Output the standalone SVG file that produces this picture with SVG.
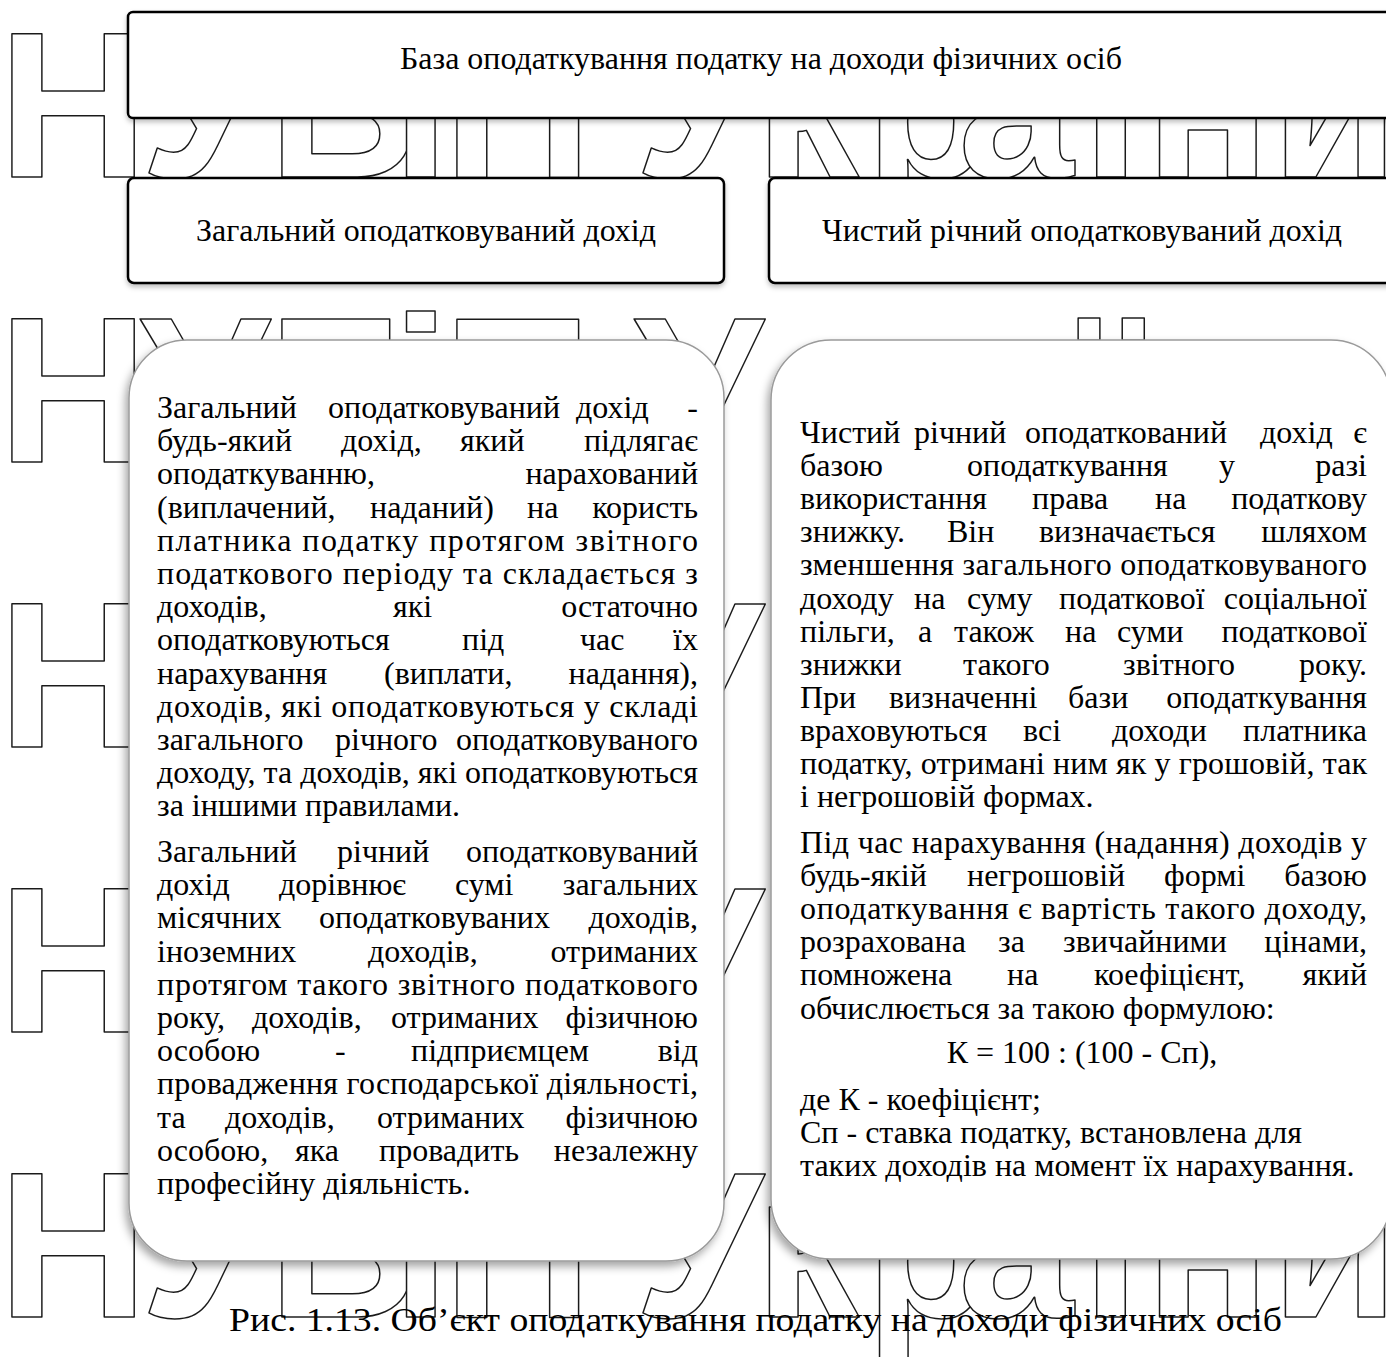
<svg xmlns="http://www.w3.org/2000/svg" width="1386" height="1357" viewBox="0 0 1386 1357">
<style>
.t{font-family:"Liberation Serif","Times New Roman",serif;font-size:32px;fill:#000}
.h{font-family:"Liberation Serif","Times New Roman",serif;font-size:32px;fill:#000;text-anchor:middle}
.wm{font-family:"Liberation Sans",Arial,sans-serif;font-weight:bold;font-size:208px;fill:#fff;stroke:#1a1a1a;stroke-width:1.5;stroke-linejoin:round}
.box{fill:#fff;stroke:#000;stroke-width:2.5}
.big{fill:#fff;stroke:#9a9a9a;stroke-width:1.5}
</style>
<defs>
<filter id="sh" x="-10%" y="-10%" width="120%" height="120%">
<feDropShadow dx="-3" dy="5" stdDeviation="4" flood-color="#000" flood-opacity="0.35"/>
</filter>
<filter id="sh2" x="-10%" y="-20%" width="120%" height="150%">
<feDropShadow dx="0" dy="3" stdDeviation="2.5" flood-color="#000" flood-opacity="0.25"/>
</filter>
</defs>
<rect width="1386" height="1357" fill="#fff"/>
<g id="watermark" class="wm">
<text x="-2 140 268 392 443 600 634 755 865 958 1082 1145 1271" y="177">НУБіП України</text>
<text x="-2 140 268 392 443 600 634" y="462">НУБіП У</text>
<text x="1082" y="462">ї</text>
<text x="-2" y="747">Н</text>
<text x="634" y="747">У</text>
<text x="-2" y="1032">Н</text>
<text x="634" y="1032">У</text>
<text x="-2 140 268 392 443 600 634 755 865 958 1082 1145 1271" y="1317">НУБіП України</text>
</g>
<g id="caption">
<text class="t" x="229" y="1331" style="font-size:34px" textLength="1053" lengthAdjust="spacingAndGlyphs">Рис. 1.13. Об’єкт оподаткування податку на доходи фізичних осіб</text>
</g>
<g id="connectors"></g>
<g id="node-base">
<rect class="box" x="128" y="12" width="1280" height="106" rx="5" filter="url(#sh2)"/>
<text class="h" x="761" y="69" textLength="722" lengthAdjust="spacingAndGlyphs">База оподаткування податку на доходи фізичних осіб</text>
</g>
<g id="node-general">
<rect class="box" x="128" y="178" width="596" height="105" rx="6" filter="url(#sh2)"/>
<text class="h" x="426" y="241" textLength="460" lengthAdjust="spacingAndGlyphs">Загальний оподатковуваний дохід</text>
</g>
<g id="node-net">
<rect class="box" x="769" y="178" width="640" height="105" rx="6" filter="url(#sh2)"/>
<text class="h" x="1082" y="241" textLength="520" lengthAdjust="spacingAndGlyphs">Чистий річний оподатковуваний дохід</text>
</g>
<g id="node-general-desc">
<rect class="big" x="129" y="340" width="595" height="921" rx="58" filter="url(#sh)"/>
<text class="t" y="418"><tspan x="157">Загальний</tspan><tspan x="328">оподатковуваний</tspan><tspan x="576">дохід</tspan><tspan x="698" text-anchor="end">-</tspan></text>
<text class="t" y="451.2"><tspan x="157">будь-який</tspan><tspan x="341">дохід,</tspan><tspan x="460">який</tspan><tspan x="698" text-anchor="end">підлягає</tspan></text>
<text class="t" y="484.4"><tspan x="157">оподаткуванню,</tspan><tspan x="698" text-anchor="end">нарахований</tspan></text>
<text class="t" y="517.6"><tspan x="157">(виплачений,</tspan><tspan x="370">наданий)</tspan><tspan x="527">на</tspan><tspan x="698" text-anchor="end">користь</tspan></text>
<text class="t" y="550.8" x="157" textLength="541" lengthAdjust="spacing">платника податку протягом звітного</text>
<text class="t" y="584" x="157" textLength="541" lengthAdjust="spacing">податкового періоду та складається з</text>
<text class="t" y="617.2"><tspan x="157">доходів,</tspan><tspan x="393">які</tspan><tspan x="698" text-anchor="end">остаточно</tspan></text>
<text class="t" y="650.4"><tspan x="157">оподатковуються</tspan><tspan x="462">під</tspan><tspan x="580">час</tspan><tspan x="698" text-anchor="end">їх</tspan></text>
<text class="t" y="683.6"><tspan x="157">нарахування</tspan><tspan x="384">(виплати,</tspan><tspan x="698" text-anchor="end">надання),</tspan></text>
<text class="t" y="716.8" x="157" textLength="541" lengthAdjust="spacing">доходів, які оподатковуються у складі</text>
<text class="t" y="750"><tspan x="157">загального</tspan><tspan x="335">річного</tspan><tspan x="698" text-anchor="end">оподатковуваного</tspan></text>
<text class="t" y="783.2" x="157" textLength="541" lengthAdjust="spacing">доходу, та доходів, які оподатковуються</text>
<text class="t" y="816.4" x="157">за іншими правилами.</text>
<text class="t" y="862"><tspan x="157">Загальний</tspan><tspan x="337">річний</tspan><tspan x="698" text-anchor="end">оподатковуваний</tspan></text>
<text class="t" y="895.2"><tspan x="157">дохід</tspan><tspan x="279">дорівнює</tspan><tspan x="455">сумі</tspan><tspan x="698" text-anchor="end">загальних</tspan></text>
<text class="t" y="928.4"><tspan x="157">місячних</tspan><tspan x="319">оподатковуваних</tspan><tspan x="698" text-anchor="end">доходів,</tspan></text>
<text class="t" y="961.6"><tspan x="157">іноземних</tspan><tspan x="368">доходів,</tspan><tspan x="698" text-anchor="end">отриманих</tspan></text>
<text class="t" y="994.8" x="157" textLength="541" lengthAdjust="spacing">протягом такого звітного податкового</text>
<text class="t" y="1028"><tspan x="157">року,</tspan><tspan x="252">доходів,</tspan><tspan x="391">отриманих</tspan><tspan x="698" text-anchor="end">фізичною</tspan></text>
<text class="t" y="1061.2"><tspan x="157">особою</tspan><tspan x="335">-</tspan><tspan x="411">підприємцем</tspan><tspan x="698" text-anchor="end">від</tspan></text>
<text class="t" y="1094.4" x="157" textLength="541" lengthAdjust="spacing">провадження господарської діяльності,</text>
<text class="t" y="1127.6"><tspan x="157">та</tspan><tspan x="225">доходів,</tspan><tspan x="377">отриманих</tspan><tspan x="698" text-anchor="end">фізичною</tspan></text>
<text class="t" y="1160.8"><tspan x="157">особою,</tspan><tspan x="295">яка</tspan><tspan x="379">провадить</tspan><tspan x="698" text-anchor="end">незалежну</tspan></text>
<text class="t" y="1194" x="157">професійну діяльність.</text>
</g>
<g id="node-net-desc">
<rect class="big" x="771" y="340" width="620" height="919" rx="60" filter="url(#sh)"/>
<text class="t" y="443"><tspan x="800">Чистий</tspan><tspan x="914">річний</tspan><tspan x="1025">оподаткований</tspan><tspan x="1260">дохід</tspan><tspan x="1367" text-anchor="end">є</tspan></text>
<text class="t" y="476.1"><tspan x="800">базою</tspan><tspan x="967">оподаткування</tspan><tspan x="1219">у</tspan><tspan x="1367" text-anchor="end">разі</tspan></text>
<text class="t" y="509.2"><tspan x="800">використання</tspan><tspan x="1032">права</tspan><tspan x="1155">на</tspan><tspan x="1367" text-anchor="end">податкову</tspan></text>
<text class="t" y="542.3"><tspan x="800">знижку.</tspan><tspan x="947">Він</tspan><tspan x="1039">визначається</tspan><tspan x="1367" text-anchor="end">шляхом</tspan></text>
<text class="t" y="575.4" x="800" textLength="567" lengthAdjust="spacing">зменшення загального оподатковуваного</text>
<text class="t" y="608.5"><tspan x="800">доходу</tspan><tspan x="914">на</tspan><tspan x="967">суму</tspan><tspan x="1059">податкової</tspan><tspan x="1367" text-anchor="end">соціальної</tspan></text>
<text class="t" y="641.6"><tspan x="800">пільги,</tspan><tspan x="918">а</tspan><tspan x="954">також</tspan><tspan x="1065">на</tspan><tspan x="1117">суми</tspan><tspan x="1367" text-anchor="end">податкової</tspan></text>
<text class="t" y="674.7"><tspan x="800">знижки</tspan><tspan x="963">такого</tspan><tspan x="1123">звітного</tspan><tspan x="1367" text-anchor="end">року.</tspan></text>
<text class="t" y="707.8"><tspan x="800">При</tspan><tspan x="889">визначенні</tspan><tspan x="1068">бази</tspan><tspan x="1367" text-anchor="end">оподаткування</tspan></text>
<text class="t" y="740.9"><tspan x="800">враховуються</tspan><tspan x="1023">всі</tspan><tspan x="1112">доходи</tspan><tspan x="1367" text-anchor="end">платника</tspan></text>
<text class="t" y="774" x="800" textLength="567" lengthAdjust="spacing">податку, отримані ним як у грошовій, так</text>
<text class="t" y="807.1" x="800">і негрошовій формах.</text>
<text class="t" y="853" x="800" textLength="567" lengthAdjust="spacing">Під час нарахування (надання) доходів у</text>
<text class="t" y="886.1"><tspan x="800">будь-якій</tspan><tspan x="967">негрошовій</tspan><tspan x="1164">формі</tspan><tspan x="1367" text-anchor="end">базою</tspan></text>
<text class="t" y="919.2" x="800" textLength="567" lengthAdjust="spacing">оподаткування є вартість такого доходу,</text>
<text class="t" y="952.3"><tspan x="800">розрахована</tspan><tspan x="998">за</tspan><tspan x="1063">звичайними</tspan><tspan x="1367" text-anchor="end">цінами,</tspan></text>
<text class="t" y="985.4"><tspan x="800">помножена</tspan><tspan x="1007">на</tspan><tspan x="1094">коефіцієнт,</tspan><tspan x="1367" text-anchor="end">який</tspan></text>
<text class="t" y="1018.5" x="800">обчислюється за такою формулою:</text>
<text class="t" y="1063" x="1082" text-anchor="middle">К = 100 : (100 - Сп),</text>
<text class="t" y="1110" x="800">де К - коефіцієнт;</text>
<text class="t" y="1143" x="800">Сп - ставка податку, встановлена для</text>
<text class="t" y="1176" x="800">таких доходів на момент їх нарахування.</text>
</g>
</svg>
